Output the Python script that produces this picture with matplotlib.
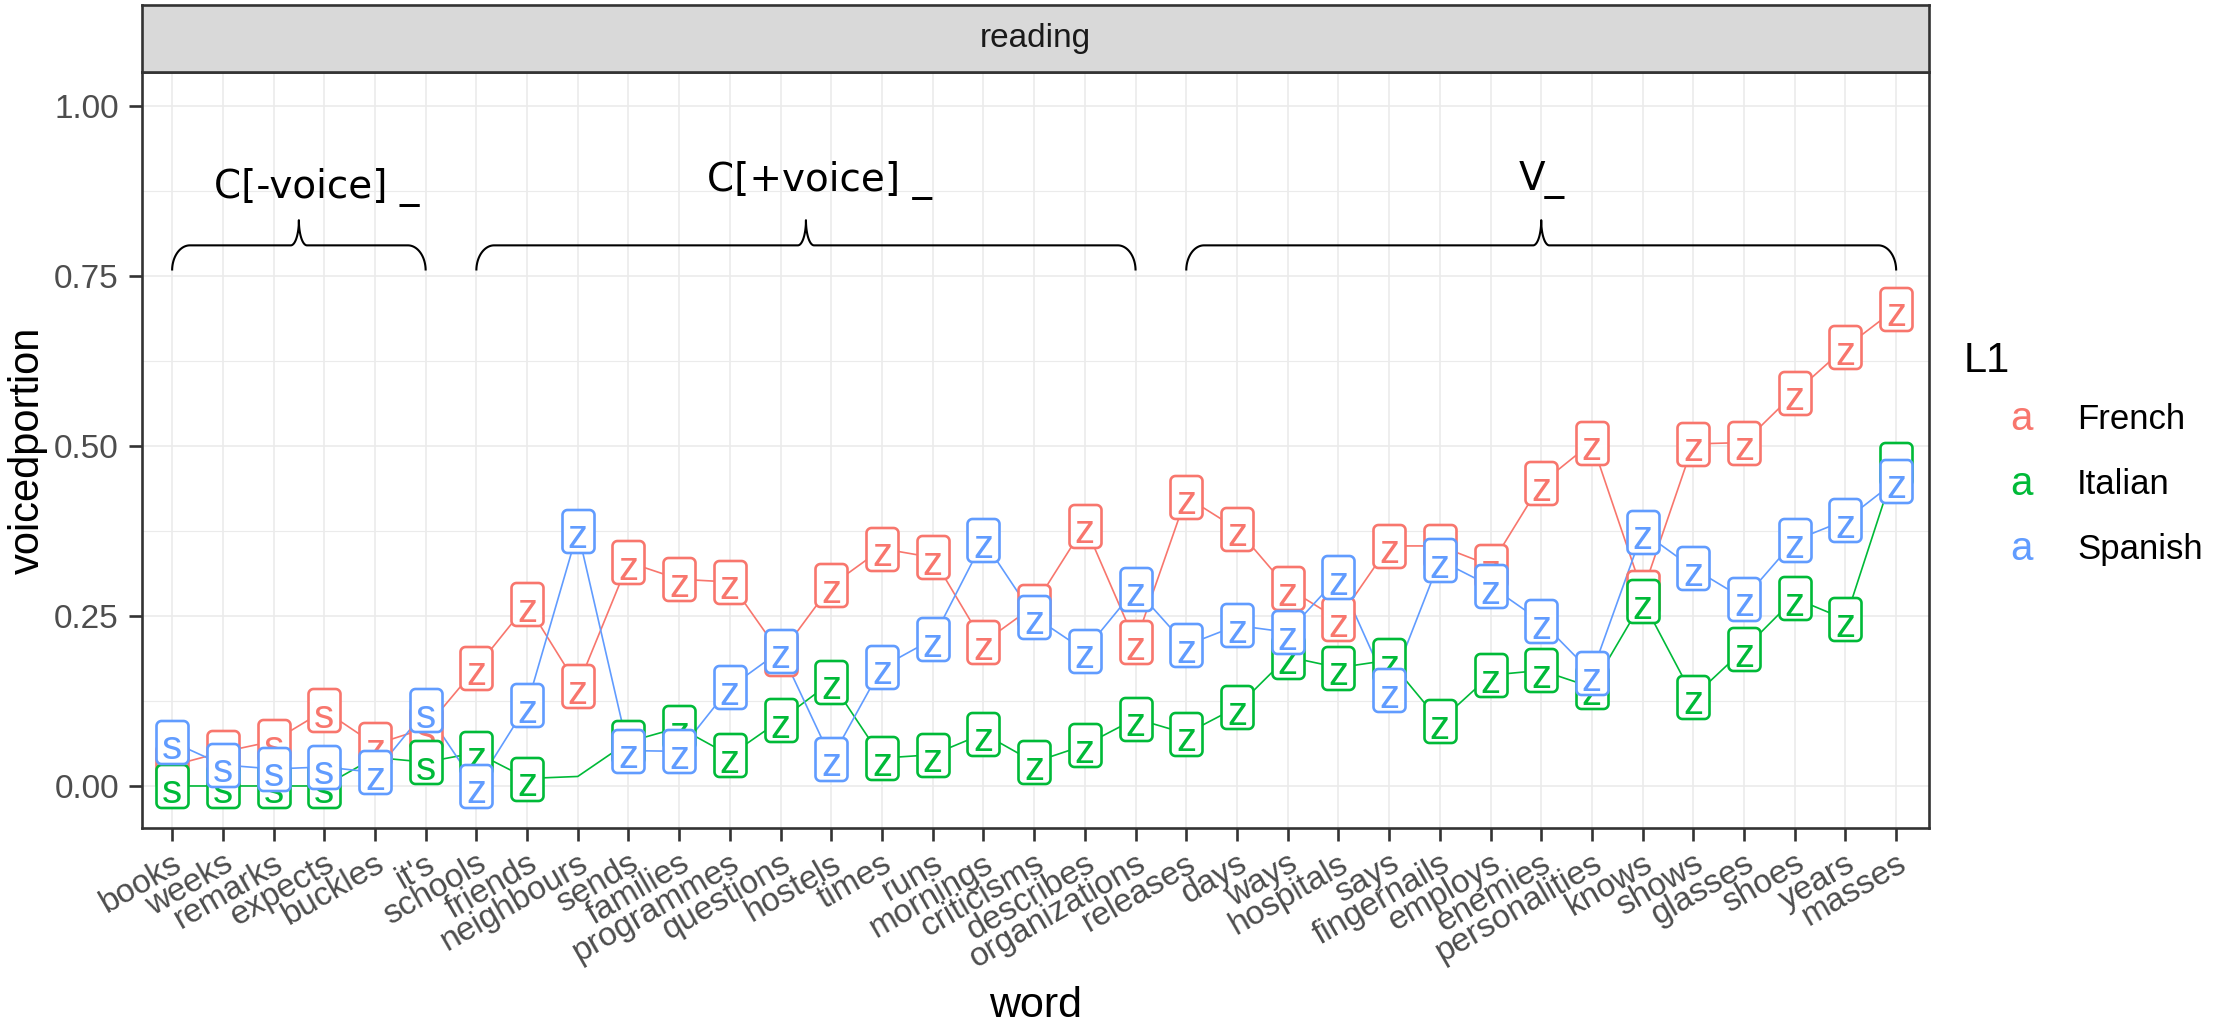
import numpy as np
import matplotlib.pyplot as plt
from matplotlib.path import Path
from matplotlib import transforms

plt.rcParams['font.family'] = ['Liberation Sans', 'DejaVu Sans']

# words on the x axis, in plotting order
words = ['books', 'weeks', 'remarks', 'expects', 'buckles', "it's", 'schools',
         'friends', 'neighbours', 'sends', 'families', 'programmes', 'questions',
         'hostels', 'times', 'runs', 'mornings', 'criticisms', 'describes',
         'organizations', 'releases', 'days', 'ways', 'hospitals', 'says',
         'fingernails', 'employs', 'enemies', 'personalities', 'knows', 'shows',
         'glasses', 'shoes', 'years', 'masses']
# sound printed in each label
sounds = ['s', 's', 's', 's', 'z', 's', 'z', 'z', 'z', 'z', 'z', 'z', 'z', 'z',
          'z', 'z', 'z', 'z', 'z', 'z', 'z', 'z', 'z', 'z', 'z', 'z', 'z', 'z',
          'z', 'z', 'z', 'z', 'z', 'z', 'z']

# voiced portion per L1 group
french = [0.030, 0.050, 0.066, 0.111, 0.061, 0.085, 0.174, 0.267, 0.147, 0.329,
          0.304, 0.300, 0.194, 0.295, 0.349, 0.336, 0.211, 0.265, 0.383, 0.211,
          0.425, 0.378, 0.291, 0.245, 0.353, 0.353, 0.324, 0.445, 0.505, 0.285,
          0.503, 0.505, 0.578, 0.645, 0.702]
italian = [0.000, 0.000, 0.000, 0.000, 0.042, 0.035, 0.049, 0.011, 0.014, 0.065,
           0.086, 0.045, 0.097, 0.153, 0.041, 0.046, 0.077, 0.035, 0.060, 0.099,
           0.077, 0.116, 0.190, 0.174, 0.185, 0.095, 0.163, 0.170, 0.145, 0.272,
           0.131, 0.201, 0.276, 0.245, 0.474]
spanish = [0.065, 0.031, 0.025, 0.028, 0.020, 0.111, 0.000, 0.119, 0.375, 0.052,
           0.051, 0.145, 0.199, 0.040, 0.175, 0.216, 0.361, 0.249, 0.199, 0.290,
           0.207, 0.236, 0.226, 0.307, 0.141, 0.332, 0.294, 0.242, 0.166, 0.374,
           0.320, 0.275, 0.361, 0.391, 0.449]

languages = ['French', 'Italian', 'Spanish']
colours = ['#F8766D', '#00BA38', '#619CFF']
series = [french, italian, spanish]
# points that have no label drawn
unlabelled = {'Italian': ['buckles', 'neighbours']}

# context brackets above the data
contexts = ['C[-voice] _', 'C[+voice] _', 'V_']
context_first = ['books', 'schools', 'releases']
context_last = ["it's", 'organizations', 'masses']
context_text_x = [2.86, 12.76, 27.02]
context_text_y = [0.865, 0.875, 0.876]


def rounded_box(w=32, h=43, r=5, n=8):
    pts = []
    corners = [(w / 2 - r, h / 2 - r, 0), (-w / 2 + r, h / 2 - r, 90),
               (-w / 2 + r, -h / 2 + r, 180), (w / 2 - r, -h / 2 + r, 270)]
    for cx, cy, a0 in corners:
        for t in np.radians(np.linspace(a0, a0 + 90, n)):
            pts.append((cx + r * np.cos(t), cy + r * np.sin(t)))
    pts.append(pts[0])
    codes = [Path.MOVETO] + [Path.LINETO] * (len(pts) - 2) + [Path.CLOSEPOLY]
    return Path(pts, codes)


def brace(ax, x0, x1, yb=0.758, ym=0.795, yt=0.832, c=0.35, c2=0.16):
    t = np.linspace(0, np.pi / 2, 30)
    xm = (x0 + x1) / 2
    # left end, rising into the horizontal bar
    lx = x0 + c - c * np.cos(t)
    ly = yb + (ym - yb) * np.sin(t)
    # bar into the central tip
    tx = xm - c2 + c2 * np.sin(t)
    ty = yt - (yt - ym) * np.cos(t)
    xs = np.concatenate([lx, tx, (2 * xm - tx)[::-1], (x0 + x1 - lx)[::-1]])
    ys = np.concatenate([ly, ty, ty[::-1], ly[::-1]])
    ax.plot(xs, ys, color='black', lw=1.5, zorder=6, solid_capstyle='butt')


fig = plt.figure(figsize=(22.16, 10.24), dpi=100)
ax = fig.add_axes([0.06394, 0.1914, 0.8066, 0.7386])
strip = fig.add_axes([0.06394, 0.9300, 0.8066, 0.0651])

x = np.arange(len(words))
box = rounded_box()

for k, (lang, col, vals) in enumerate(zip(languages, colours, series)):
    vals = np.array(vals)
    ax.plot(x, vals, color=col, lw=1.2, zorder=2)
    keep = np.array([w not in unlabelled.get(lang, []) for w in words])
    ax.scatter(x[keep], vals[keep], marker=box, s=(43 * 0.72) ** 2,
               facecolor='white', edgecolor=col, linewidths=1.9, zorder=3 + k)
    for i in np.where(keep)[0]:
        ax.annotate(sounds[i], (x[i], vals[i]), xytext=(0, -12.6),
                    textcoords='offset points', ha='center', va='baseline',
                    fontsize=29, color=col, zorder=3.5 + k)

for name, first, last, tx, ty in zip(contexts, context_first, context_last,
                                     context_text_x, context_text_y):
    brace(ax, words.index(first), words.index(last))
    ax.text(tx, ty, name, ha='center', va='baseline', fontsize=28,
            family='DejaVu Sans', color='black', zorder=6)

ax.set_xlim(-0.6, 34.65)
ax.set_ylim(-0.0618, 1.0504)
ax.set_xticks(x)
ax.set_xticklabels(words, rotation=30, ha='right', va='top',
                   rotation_mode='anchor')
shift = transforms.ScaledTranslation(5 / 100, 0, fig.dpi_scale_trans)
for lab in ax.get_xticklabels():
    lab.set_transform(lab.get_transform() + shift)
yt = [0, 0.25, 0.5, 0.75, 1.0]
ax.set_yticks(yt)
ax.set_yticklabels(['%.2f' % v for v in yt])
ax.set_yticks([0.125, 0.375, 0.625, 0.875], minor=True)
ax.tick_params(which='major', length=9.4, width=1.9, color='#333333',
               labelcolor='#4D4D4D', labelsize=24)
ax.tick_params(axis='y', pad=7)
ax.tick_params(axis='x', pad=5)
ax.tick_params(which='minor', length=0)
ax.grid(which='major', color='#EBEBEB', lw=1.2)
ax.grid(which='minor', axis='y', color='#EBEBEB', lw=0.8)
ax.set_axisbelow(True)
for sp in ax.spines.values():
    sp.set_color('#333333')
    sp.set_linewidth(1.9)

ax.set_ylabel('voicedportion', fontsize=30, va='center')
ax.yaxis.set_label_coords(-0.0635, 0.5)
ax.set_xlabel('word', fontsize=31, va='center')
ax.xaxis.set_label_coords(0.5, -0.2354)

# facet strip
strip.set_facecolor('#D9D9D9')
strip.set_xticks([])
strip.set_yticks([])
for sp in strip.spines.values():
    sp.set_color('#333333')
    sp.set_linewidth(1.9)
strip.text(0.5, 0.5, 'reading', ha='center', va='center', fontsize=24,
           color='#1A1A1A', transform=strip.transAxes)

# legend
W, H = 2216, 1024
fig.text(1964 / W, 1 - 372 / H, 'L1', fontsize=30, va='baseline', ha='left')
for k, (lang, col) in enumerate(zip(languages, colours)):
    base = 430 + 65 * k
    fig.text(2022 / W, 1 - base / H, 'a', fontsize=29, color=col,
             ha='center', va='baseline')
    fig.text(2077 / W, 1 - (base - 1) / H, lang, fontsize=25, color='black',
             ha='left', va='baseline')

fig.savefig('out.png', dpi=100)
